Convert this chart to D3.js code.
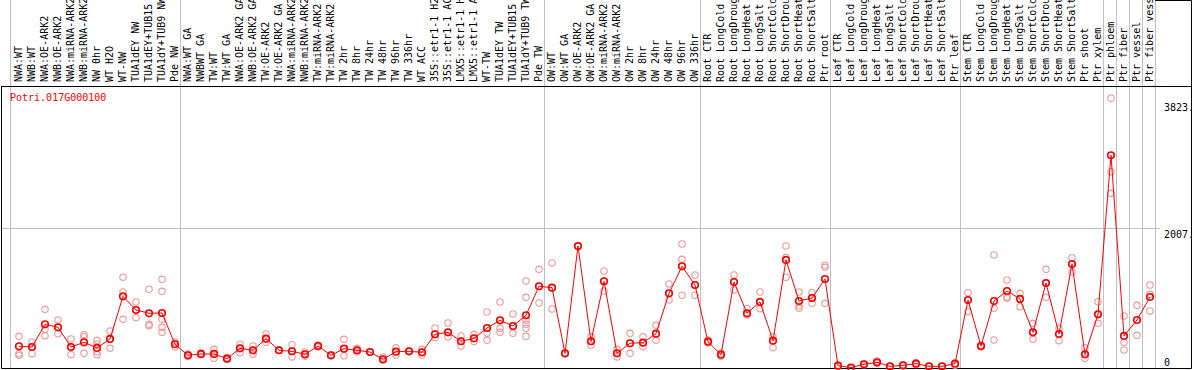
<!DOCTYPE html>
<html>
<head>
<meta charset="utf-8">
<title>Potri.017G000100</title>
<script src="https://cdn.jsdelivr.net/npm/d3@7"></script>
<style>
  body { margin: 0; background: #fff; }
  text { font-family: 'DejaVu Sans Mono', monospace; font-size: 10px; }
</style>
</head>
<body>
<script>
// gene shown in the corner
var gene = "Potri.017G000100";

// sample names, left to right
var samples = [
  "NWA:WT", "NWB:WT", "NWA:OE-ARK2", "NWB:OE-ARK2", "NWA:miRNA-ARK2", "NWB:miRNA-ARK2",
  "NW 0hr", "WT H2O", "WT-NW", "TUA1dEY NW", "TUA1dEY+TUB15 NW", "TUA1dY+TUB9 NW", "Pde NW",
  "NWA:WT GA", "NWBWT GA", "TW:WT", "TW:WT GA", "NWA:OE-ARK2 GA", "NWB:OE-ARK2 GA",
  "TW:OE-ARK2", "TW:OE-ARK2 GA", "NWA:miRNA-ARK2", "NWB:miRNA-ARK2", "TW:miRNA-ARK2", "TW:miRNA-ARK2",
  "TW 2hr", "TW 8hr", "TW 24hr", "TW 48hr", "TW 96hr", "TW 336hr", "WT ACC",
  "35S::etr1-1 H2O", "35S::etr1-1 ACC", "LMX5::etr1-1 H2O", "LMX5::etr1-1 ACC",
  "WT-TW", "TUA1dEY TW", "TUA1dEY+TUB15 TW", "TUA1dY+TUB9 TW", "Pde TW",
  "OW:WT", "OW:WT GA", "OW:OE-ARK2", "OW:OE-ARK2 GA", "OW:miRNA-ARK2", "OW:miRNA-ARK2",
  "OW 2hr", "OW 8hr", "OW 24hr", "OW 48hr", "OW 96hr", "OW 336hr",
  "Root CTR", "Root LongCold", "Root LongDrought", "Root LongHeat", "Root LongSalt",
  "Root ShortCold", "Root ShortDrought", "Root ShortHeat", "Root ShortSalt", "Ptr root",
  "Leaf CTR", "Leaf LongCold", "Leaf LongDrought", "Leaf LongHeat", "Leaf LongSalt",
  "Leaf ShortCold", "Leaf ShortDrought", "Leaf ShortHeat", "Leaf ShortSalt", "Ptr leaf",
  "Stem CTR", "Stem LongCold", "Stem LongDrought", "Stem LongHeat", "Stem LongSalt",
  "Stem ShortCold", "Stem ShortDrought", "Stem ShortHeat", "Stem ShortSalt", "Ptr shoot", "Ptr xylem",
  "Ptr phloem", "Ptr fiber", "Ptr vessel", "Ptr fiber vessel"
];

// mean expression per sample
var means = [
  311, 301, 626, 583, 301, 368, 287, 416, 1027, 831, 784, 788, 340,
  182, 201, 201, 134, 282, 254, 420, 254, 239, 196, 315, 182, 277, 254, 229, 125, 234, 239, 225,
  483, 511, 383, 425, 573, 683, 602, 755, 1171,
  1151, 210, 1748, 383, 1242, 210, 354, 363, 492, 1070, 1457, 1189,
  377, 191, 1232, 784, 946, 392, 1548, 960, 1003, 1275,
  33, 5, 53, 81, 24, 38, 62, 24, 24, 62,
  974, 315, 960, 1103, 989, 511, 1218, 487, 1490, 196, 769,
  3048, 459, 688, 1017
];

// single replicates per sample
var reps = [
  [454, 205, 181], [373, 300, 205], [841, 554, 463], [688, 583, 492], [416, 301, 191],
  [478, 449, 210], [397, 344, 234, 191], [530, 416, 282], [1300, 1089, 698], [946, 831, 721],
  [1128, 626, 606], [1271, 1099, 788, 698, 583, 511], [368, 340, 301],
  [200, 170], [215, 190], [268, 201, 139], [150, 120], [340, 282, 219], [315, 254, 196],
  [487, 420, 368], [260, 250], [334, 239, 158], [229, 196, 170], [330, 300], [190, 175],
  [411, 277, 176], [282, 254, 230], [235, 225], [158, 125, 110], [291, 234, 186], [245, 235],
  [268, 225, 186], [573, 483, 434], [645, 511, 444], [459, 383, 315], [483, 425, 380],
  [802, 573, 497, 397], [946, 683, 569, 511], [774, 602, 497], [1247, 1013, 688, 626, 569, 454],
  [1414, 1171, 931],
  [1505, 1151, 845], [215, 205], [1755, 1740], [449, 383, 325], [1390, 1242, 1103],
  [268, 210, 158], [497, 354, 210], [449, 363, 306], [612, 492, 397], [1204, 1070, 974],
  [1777, 1557, 1042], [1333, 1189, 1042],
  [400, 360], [215, 170], [1333, 1232, 1118], [850, 784, 760], [1089, 946, 850],
  [449, 392, 291], [1748, 1586, 1300], [1089, 888, 855], [1079, 1003, 927], [1472, 1443, 927],
  [40, 25], [8, 3], [60, 45], [100, 65], [30, 20], [45, 30], [75, 50], [30, 18], [28, 20], [70, 40],
  [1079, 974, 807], [330, 300], [1619, 855, 401], [1261, 1022, 999], [1070, 989, 878],
  [640, 511, 411], [1414, 1218, 1013], [569, 487, 392], [1581, 1490, 1371], [291, 196, 139],
  [950, 769, 640],
  [3865, 2813, 2503], [745, 368, 258], [898, 468], [1189, 1056, 817]
];

// sample index where each group starts (gray separators)
var groupStarts = [0, 13, 41, 53, 63, 73, 84, 85, 86, 87, 88];
var axisTicks = [0, 2007, 3823];
var gridTicks = [2007];

var W = 1194, H = 370;
var svg = d3.select("body").append("svg").attr("width", W).attr("height", H);

var x = d3.scaleBand().domain(d3.range(samples.length)).range([11, 11 + 13 * samples.length]);
var y = d3.scaleLinear().domain([0, 4040]).range([368, 86]);
var px = function(i) { return x(i) + 8; };

// group separators
svg.append("g").selectAll("line")
  .data(groupStarts)
  .enter().append("line")
  .attr("x1", function(d, k) { return (k == 0 ? x(0) - 1 : x(0) + 13 * d) + 0.5; })
  .attr("x2", function(d, k) { return (k == 0 ? x(0) - 1 : x(0) + 13 * d) + 0.5; })
  .attr("y1", 0).attr("y2", 368)
  .style("stroke", "#c0c0c0");

// horizontal grid
svg.append("g").selectAll("line")
  .data(gridTicks)
  .enter().append("line")
  .attr("x1", 1).attr("x2", 1160)
  .attr("y1", function(d) { return Math.round(y(d)) + 0.5; })
  .attr("y2", function(d) { return Math.round(y(d)) + 0.5; })
  .style("stroke", "#c0c0c0");

// frame
svg.append("path")
  .attr("d", "M1.5,86.5H1191.5 M1.5,86V368.5H1191.5V0.5H1155")
  .style("fill", "none").style("stroke", "#000");

// sample labels in the header
svg.append("g").selectAll("text")
  .data(samples)
  .enter().append("text")
  .attr("transform", function(d, i) { return "translate(" + (x(i) + 11) + ",82) rotate(-90)"; })
  .text(function(d) { return d; });

// gene id
svg.append("text").attr("x", 10).attr("y", 101).style("fill", "red").text(gene);

// right value labels
svg.append("g").selectAll("text")
  .data(axisTicks)
  .enter().append("text")
  .attr("x", 1164)
  .attr("y", function(d) { return Math.min(y(d) + 10, 366); })
  .text(function(d) { return d == 0 ? "0" : d + "."; });

// replicates
var repPts = [];
reps.forEach(function(r, i) { r.forEach(function(v) { repPts.push([i, v]); }); });
svg.append("g").selectAll("circle")
  .data(repPts)
  .enter().append("circle")
  .attr("cx", function(d) { return px(d[0]); })
  .attr("cy", function(d) { return y(d[1]); })
  .attr("r", 3.2)
  .style("fill", "none").style("stroke", "#ec9a9a").style("stroke-width", 1.1);

// mean line
var line = d3.line().x(function(d, i) { return px(i); }).y(function(d) { return y(d); });
svg.append("path").datum(means)
  .attr("d", line)
  .style("fill", "none").style("stroke", "red").style("stroke-width", 1);

svg.append("g").selectAll("circle")
  .data(means)
  .enter().append("circle")
  .attr("cx", function(d, i) { return px(i); })
  .attr("cy", function(d) { return y(d); })
  .attr("r", 3.3)
  .style("fill", "none").style("stroke", "red").style("stroke-width", 1.6);
</script>
</body>
</html>
